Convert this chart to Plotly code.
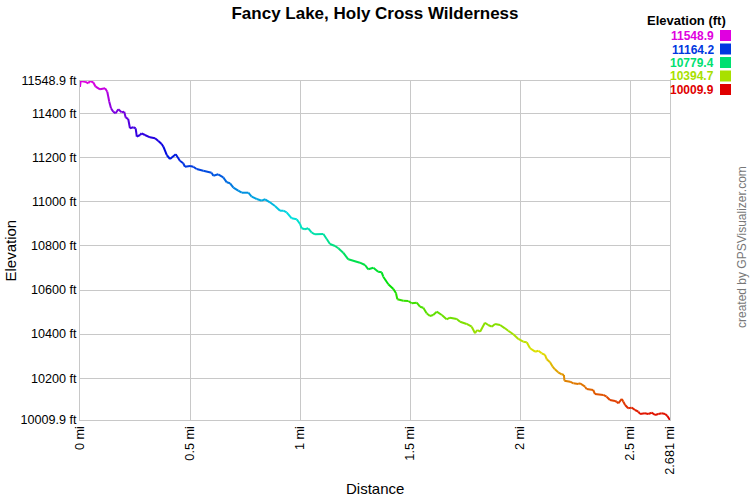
import colorsys
import plotly.graph_objects as go

# ---- data ----
dist_mi = [0.000, 0.003, 0.023, 0.038, 0.045, 0.060, 0.071, 0.091, 0.114, 0.124, 0.133, 0.141, 0.151, 0.162,
           0.174, 0.189, 0.201, 0.208, 0.219, 0.227, 0.242, 0.253, 0.258, 0.273, 0.280, 0.295, 0.318, 0.341,
           0.356, 0.371, 0.379, 0.394, 0.409, 0.435, 0.454, 0.469, 0.477, 0.500, 0.515, 0.530, 0.560, 0.598,
           0.606, 0.628, 0.651, 0.667, 0.682, 0.697, 0.719, 0.735, 0.765, 0.780, 0.803, 0.826, 0.841, 0.863,
           0.886, 0.909, 0.924, 0.939, 0.962, 0.985, 1.000, 1.007, 1.022, 1.037, 1.053, 1.068, 1.106, 1.121,
           1.136, 1.159, 1.174, 1.196, 1.219, 1.272, 1.295, 1.310, 1.333, 1.355, 1.371, 1.378, 1.401, 1.424,
           1.436, 1.442, 1.469, 1.492, 1.507, 1.530, 1.545, 1.560, 1.575, 1.590, 1.605, 1.621, 1.644, 1.666,
           1.681, 1.712, 1.727, 1.757, 1.780, 1.795, 1.805, 1.818, 1.840, 1.855, 1.871, 1.886, 1.909, 1.931,
           1.946, 1.969, 1.992, 2.014, 2.030, 2.045, 2.068, 2.083, 2.098, 2.113, 2.121, 2.136, 2.148, 2.158,
           2.173, 2.189, 2.199, 2.201, 2.227, 2.242, 2.264, 2.272, 2.295, 2.302, 2.332, 2.340, 2.378, 2.393,
           2.408, 2.431, 2.439, 2.446, 2.462, 2.469, 2.477, 2.491, 2.507, 2.522, 2.537, 2.545, 2.567, 2.582,
           2.598, 2.613, 2.628, 2.643, 2.659, 2.669, 2.681]

elev_ft = [11521.7, 11548.9, 11545.7, 11538.5, 11548.9, 11543.0, 11523.0, 11511.0, 11515.8, 11500.3, 11454.9,
           11425.0, 11409.5, 11402.3, 11420.4, 11406.8, 11409.5, 11382.3, 11376.4, 11334.2, 11338.7, 11334.2,
           11296.0, 11303.8, 11311.5, 11303.8, 11293.3, 11288.8, 11276.5, 11262.9, 11250.6, 11213.0, 11194.8,
           11216.1, 11187.0, 11175.3, 11159.8, 11163.0, 11159.8, 11149.4, 11141.7, 11132.6, 11119.0, 11125.3,
           11111.7, 11089.0, 11084.5, 11064.5, 11050.9, 11041.8, 11041.8, 11023.7, 11013.2, 11005.5, 11011.9,
           10998.2, 10981.5, 10960.0, 10960.0, 10952.8, 10925.5, 10921.0, 10899.7, 10880.2, 10875.7, 10880.2,
           10860.2, 10852.9, 10854.3, 10831.6, 10808.9, 10799.8, 10789.4, 10769.4, 10739.5, 10724.0, 10713.6,
           10694.1, 10701.3, 10683.2, 10680.4, 10660.5, 10625.9, 10604.6, 10585.1, 10557.9, 10551.5, 10550.1,
           10539.7, 10542.4, 10524.3, 10519.7, 10494.3, 10482.1, 10486.6, 10501.6, 10486.6, 10467.1, 10474.4,
           10468.4, 10456.2, 10445.8, 10433.5, 10403.5, 10418.5, 10410.8, 10451.6, 10441.2, 10433.5, 10445.8,
           10441.2, 10426.2, 10415.3, 10399.0, 10377.7, 10365.4, 10362.7, 10335.5, 10320.0, 10324.6, 10312.8,
           10305.1, 10285.6, 10271.9, 10251.9, 10240.1, 10226.5, 10217.4, 10214.2, 10188.4, 10183.8, 10176.6,
           10173.4, 10176.6, 10161.1, 10150.7, 10146.1, 10128.0, 10123.5, 10115.7, 10100.7, 10096.2, 10093.0,
           10085.7, 10105.3, 10093.0, 10078.0, 10063.0, 10066.0, 10055.3, 10047.6, 10037.2, 10040.3, 10037.2,
           10043.1, 10032.7, 10037.2, 10040.3, 10037.2, 10028.1, 10009.9]

elev_min = 10009.9
elev_max = 11548.9
y_tickvals = [10009.9, 10200, 10400, 10600, 10800, 11000, 11200, 11400, 11548.9]
y_ticktext = ["10009.9 ft", "10200 ft", "10400 ft", "10600 ft", "10800 ft", "11000 ft", "11200 ft",
              "11400 ft", "11548.9 ft"]
x_tickvals = [0, 0.5, 1, 1.5, 2, 2.5, 2.681]
x_ticktext = ["0 mi", "0.5 mi", "1 mi", "1.5 mi", "2 mi", "2.5 mi", "2.681 mi"]
legend_vals = [11548.9, 11164.2, 10779.4, 10394.7, 10009.9]

assert len(dist_mi) == len(elev_ft)

FONT = "Liberation Sans, Arial, sans-serif"


def elev_color(e):
    t = (e - elev_min) / (elev_max - elev_min)
    t = min(max(t, 0.0), 1.0)
    r, g, b = colorsys.hsv_to_rgb(t * 300.0 / 360.0, 1.0, 0.88)
    return "rgb(%d,%d,%d)" % (round(r * 255), round(g * 255), round(b * 255))


fig = go.Figure()
for i in range(len(dist_mi) - 1):
    fig.add_trace(go.Scatter(
        x=dist_mi[i:i + 2], y=elev_ft[i:i + 2], mode="lines",
        line=dict(color=elev_color((elev_ft[i] + elev_ft[i + 1]) / 2), width=2),
        hoverinfo="skip", showlegend=False))

W, H = 750, 500
L, R, T, B = 80, 80, 81, 80
pw, ph = W - L - R, H - T - B


def px(xp):
    return (xp - L) / pw


def py(yp):
    return (H - B - yp) / ph


annotations = [
    dict(text="Elevation", x=px(10), y=0.5, xref="paper", yref="paper", textangle=-90,
         xanchor="center", yanchor="middle",
         showarrow=False, font=dict(family=FONT, size=15, color="#000")),
    dict(text="Distance", x=0.5, y=py(488), xref="paper", yref="paper",
         xanchor="center", yanchor="middle",
         showarrow=False, font=dict(family=FONT, size=15, color="#000")),
    dict(text="created by GPSVisualizer.com", x=px(742), y=py(247), xref="paper", yref="paper",
         xanchor="center", yanchor="middle",
         textangle=-90, showarrow=False, font=dict(family=FONT, size=12, color="#777")),
    dict(text="<b>Elevation (ft)</b>", x=px(728), y=py(21), xref="paper", yref="paper",
         xanchor="right", yanchor="middle", showarrow=False,
         font=dict(family=FONT, size=13, color="#000")),
]
shapes = []
for k, v in enumerate(legend_vals):
    yc = 35.5 + 13.5 * k
    col = elev_color(v)
    annotations.append(dict(text="<b>%.1f</b>" % v, x=px(716), y=py(yc), xref="paper", yref="paper",
                            xanchor="right", yanchor="middle", showarrow=False, height=13,
                            font=dict(family=FONT, size=12, color=col)))
    shapes.append(dict(type="rect", xref="paper", yref="paper", x0=px(720), x1=px(731),
                       y0=py(yc + 5.5), y1=py(yc - 5.5), fillcolor=col, line=dict(width=0)))

fig.update_layout(
    width=W, height=H, margin=dict(l=L, r=R, t=T, b=B),
    paper_bgcolor="white", plot_bgcolor="white",
    title=dict(text="<b>Fancy Lake, Holy Cross Wilderness</b>", x=0.5, xref="paper",
               y=1 - 13 / H, yanchor="middle", font=dict(family=FONT, size=17, color="#000")),
    xaxis=dict(range=[0, 2.681], tickvals=x_tickvals, ticktext=x_ticktext, tickangle=-90,
               showgrid=True, gridcolor="#c8c8c8", gridwidth=1, zeroline=False,
               showline=True, linecolor="#c8c8c8", linewidth=1, mirror=True,
               tickfont=dict(family=FONT, size=12.7, color="#000"), ticks=""),
    yaxis=dict(range=[elev_min, elev_max], tickvals=y_tickvals, ticktext=y_ticktext,
               showgrid=True, gridcolor="#c8c8c8", gridwidth=1, zeroline=False,
               showline=True, linecolor="#c8c8c8", linewidth=1, mirror=True,
               tickfont=dict(family=FONT, size=12.6, color="#000"), ticks=""),
    annotations=annotations, shapes=shapes,
)

fig.write_html("out.html", config={"displayModeBar": False},
               post_script="document.body.style.margin='0';")
